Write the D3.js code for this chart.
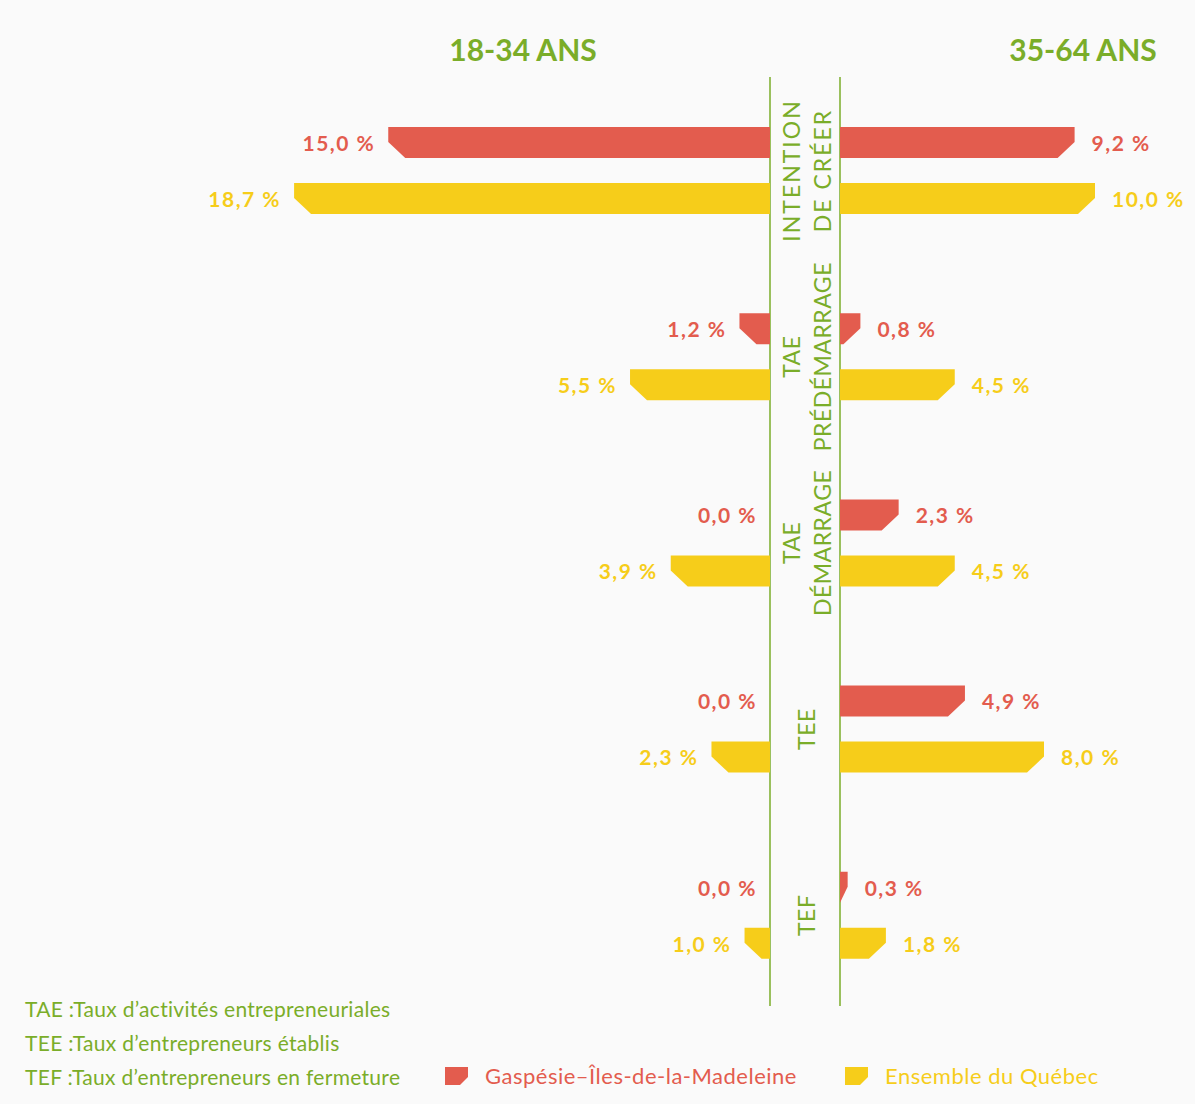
<!DOCTYPE html>
<html>
<head>
<meta charset="utf-8">
<script src="https://cdn.jsdelivr.net/npm/d3@7"></script>
<style>
  body { margin: 0; background: #fafafa; }
  svg { display: block; font-family: Lato, "Open Sans", sans-serif; }
</style>
</head>
<body>
<div id="chart"></div>
<script>
// categories (each one is split into the lines of its rotated label)
const categories = ["INTENTION DE CRÉER", "TAE PRÉDÉMARRAGE", "TAE DÉMARRAGE", "TEE", "TEF"];
const categoryLines = [["INTENTION", "DE CRÉER"], ["TAE", "PRÉDÉMARRAGE"], ["TAE", "DÉMARRAGE"], ["TEE"], ["TEF"]];
const series = ["Gaspésie–Îles-de-la-Madeleine", "Ensemble du Québec"];
const ageGroups = ["18-34 ANS", "35-64 ANS"];

// values in %
const young_gaspesie = [15.0, 1.2, 0.0, 0.0, 0.0];
const young_quebec = [18.7, 5.5, 3.9, 2.3, 1.0];
const older_gaspesie = [9.2, 0.8, 2.3, 4.9, 0.3];
const older_quebec = [10.0, 4.5, 4.5, 8.0, 1.8];

const notes = [
    "TAE :Taux d’activités entrepreneuriales",
    "TEE :Taux d’entrepreneurs établis",
    "TEF :Taux d’entrepreneurs en fermeture"
];

const width = 1195, height = 1104;
const green = "#7aad29", red = "#e35c4e", yellow = "#f6cd1a";
const colors = [red, yellow];
const leftAxis = 770, rightAxis = 840;
const fmt = v => d3.format(".1f")(v).replace(".", ",") + " %";

const svg = d3.select("#chart").append("svg")
    .attr("width", width)
    .attr("height", height);

svg.append("rect").attr("width", width).attr("height", height).attr("fill", "#fafafa");

// scales
const xLeft = d3.scaleLinear().domain([0, 20]).range([leftAxis, leftAxis - 509]);
const xRight = d3.scaleLinear().domain([0, 20]).range([rightAxis, rightAxis + 510]);
const yGroup = d3.scaleBand().domain(categories).range([127, 127 + 5 * 186.2]);
const ySeries = d3.scaleBand().domain(series).range([0, 87]).paddingInner(0.446);
const h = ySeries.bandwidth();

// bar with the outer bottom corner cut off
function barPath(x0, x1, y) {
    const dir = x1 > x0 ? 1 : -1;
    const w = Math.abs(x1 - x0);
    const ch = Math.min(17, w), cv = 16;
    return "M" + x0 + "," + y +
        "L" + x1 + "," + y +
        "L" + x1 + "," + (y + h - cv) +
        "L" + (x1 - dir * ch) + "," + (y + h) +
        "L" + x0 + "," + (y + h) + "Z";
}

// flatten data into rows
const rows = [];
categories.forEach((c, i) => {
    rows.push({ cat: c, s: series[0], side: "left", v: young_gaspesie[i], color: red });
    rows.push({ cat: c, s: series[1], side: "left", v: young_quebec[i], color: yellow });
    rows.push({ cat: c, s: series[0], side: "right", v: older_gaspesie[i], color: red });
    rows.push({ cat: c, s: series[1], side: "right", v: older_quebec[i], color: yellow });
});

// headers
svg.append("text")
    .attr("x", 523).attr("y", 61)
    .attr("text-anchor", "middle")
    .attr("fill", green)
    .style("font-size", "30px").style("font-weight", 700)
    .text(ageGroups[0]);
svg.append("text")
    .attr("x", 1083).attr("y", 61)
    .attr("text-anchor", "middle")
    .attr("fill", green)
    .style("font-size", "30px").style("font-weight", 700)
    .text(ageGroups[1]);

// vertical axis lines
[leftAxis, rightAxis].forEach(x => {
    svg.append("line")
        .attr("x1", x).attr("x2", x)
        .attr("y1", 77).attr("y2", 1006)
        .attr("stroke", green).attr("stroke-width", 1.5);
});

// bars
svg.append("g").selectAll("path")
    .data(rows.filter(d => d.v > 0))
    .join("path")
    .attr("d", d => {
        const y = yGroup(d.cat) + ySeries(d.s);
        const xs = d.side == "left" ? xLeft : xRight;
        return barPath(xs(0), xs(d.v), y);
    })
    .attr("fill", d => d.color);

// value labels
svg.append("g").selectAll("text")
    .data(rows)
    .join("text")
    .attr("x", d => d.side == "left" ? xLeft(d.v) - 13 : xRight(d.v) + 17)
    .attr("y", d => yGroup(d.cat) + ySeries(d.s) + h / 2 + 1)
    .attr("dy", "0.35em")
    .attr("text-anchor", d => d.side == "left" ? "end" : "start")
    .attr("fill", d => d.color)
    .style("font-size", "21px").style("font-weight", 700)
    .style("letter-spacing", "1.5px")
    .text(d => fmt(d.v));

// rotated category labels between the axis lines
const mid = 807;
categories.forEach((c, i) => {
    const lines = categoryLines[i];
    const cy = yGroup(c) + 43.5;
    lines.forEach((t, j) => {
        const cx = mid + (j - (lines.length - 1) / 2) * 31;
        svg.append("text")
            .attr("transform", "translate(" + cx + "," + cy + ") rotate(-90)")
            .attr("text-anchor", "middle")
            .attr("dy", "0.36em")
            .attr("fill", green)
            .style("font-size", "23px")
            .style("letter-spacing", t == "INTENTION" || t == "DE CRÉER" ? "2px" : "0.5px")
            .text(t);
    });
});

// notes
svg.append("g").selectAll("text")
    .data(notes)
    .join("text")
    .attr("x", 25)
    .attr("y", (d, i) => 1017 + i * 34)
    .attr("fill", green)
    .style("font-size", "21px")
    .style("letter-spacing", "0.3px")
    .text(d => d);

// legend
const legendX = [445, 845];
series.forEach((s, i) => {
    const g = svg.append("g").attr("transform", "translate(" + legendX[i] + ",1067)");
    g.append("path")
        .attr("d", "M0,0L23,0L23,10L15,18L0,18Z")
        .attr("fill", colors[i]);
    g.append("text")
        .attr("x", 40).attr("y", 9)
        .attr("dy", "0.36em")
        .attr("fill", colors[i])
        .style("font-size", "22px")
        .style("letter-spacing", "0.5px")
        .text(s);
});
</script>
</body>
</html>
